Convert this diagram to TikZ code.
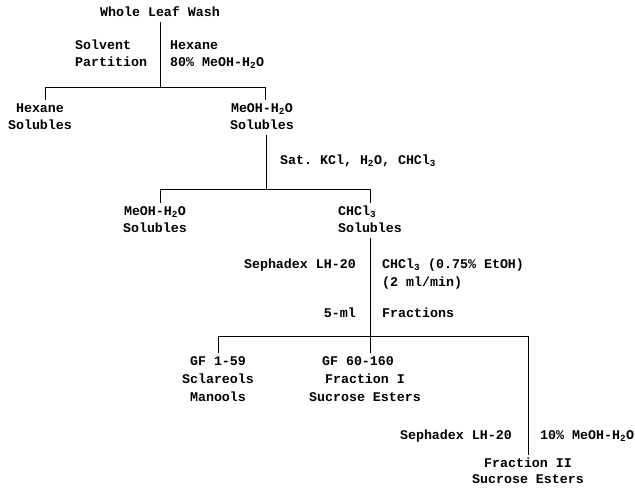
\documentclass[tikz,border=0pt]{standalone}
\usepackage{fontspec}
\setmonofont{Liberation Mono}
\newcommand\lo[1]{\textsubscript{#1}}
\begin{document}
\begin{tikzpicture}[x=1pt,y=-1pt,
  every node/.style={font=\ttfamily\bfseries\fontsize{13.3}{17}\selectfont, inner sep=0pt, text height=8pt, text depth=2pt},
  ln/.style={line width=0.6pt, black}]
\useasboundingbox (0,0) rectangle (635,488);
\fill[white] (0,0) rectangle (635,488);
% level 1
\node (title) at (160,13) {Whole Leaf Wash};
\node[anchor=west] (solA) at (75,46) {Solvent};
\node[anchor=west] (solB) at (75,63) {Partition};
\node[anchor=west] (hexL) at (170,46) {Hexane};
\node[anchor=west] (hexM) at (170,63) {80\% MeOH-H\lo{2}O};
\coordinate (c1) at (160,87);
\coordinate (h1l) at (45,87);
\coordinate (h1r) at (265,87);
\node (hxA) at (40,109) {Hexane};
\node (hxB) at (40,126) {Solubles};
\node (meA) at (262,109) {MeOH-H\lo{2}O};
\node (meB) at (262,126) {Solubles};
\draw[ln] ([yshift=-4pt]c1 |- title.south) -- (c1);
\draw[ln] (h1l) -- (h1r);
\draw[ln] (h1l) -- ([yshift=4pt]h1l |- hxA.north);
\draw[ln] (h1r) -- ([yshift=4pt]h1r |- meA.north);
% level 2
\coordinate (c2) at (266,189);
\coordinate (h2l) at (160,189);
\coordinate (h2r) at (370,189);
\node[anchor=west] (satN) at (280,161) {Sat. KCl, H\lo{2}O, CHCl\lo{3}};
\node (me2A) at (155,212) {MeOH-H\lo{2}O};
\node (me2B) at (155,229) {Solubles};
\node[anchor=west] (chA) at (338,212) {CHCl\lo{3}};
\node (chB) at (370,229) {Solubles};
\draw[ln] ([yshift=-4pt]c2 |- meB.south) -- (c2);
\draw[ln] (h2l) -- (h2r);
\draw[ln] (h2l) -- ([yshift=4pt]h2l |- me2A.north);
\draw[ln] (h2r) -- ([yshift=4pt]h2r |- chA.north);
% level 3
\coordinate (c3) at (370,336);
\coordinate (h3l) at (218,336);
\coordinate (h3r) at (528,336);
\node[anchor=east] (sepA) at (356,265) {Sephadex LH-20};
\node[anchor=west] (chcA) at (382,265) {CHCl\lo{3} (0.75\% EtOH)};
\node[anchor=west] (chcB) at (382,283) {(2 ml/min)};
\node[anchor=east] (fivA) at (356,314) {5-ml};
\node[anchor=west] (fraA) at (382,314) {Fractions};
\node (gf1A) at (218,362) {GF 1-59};
\node (gf1B) at (218,380) {Sclareols};
\node (gf1C) at (218,398) {Manools};
\node (gf2A) at (358,362) {GF 60-160};
\node (gf2B) at (365,380) {Fraction I};
\node (gf2C) at (365,398) {Sucrose Esters};
\draw[ln] ([yshift=-4pt]c3 |- chB.south) -- ([yshift=4pt]c3 |- gf2A.north);
\draw[ln] (h3l) -- (h3r);
\draw[ln] (h3l) -- ([yshift=4pt]h3l |- gf1A.north);
% level 4
\node[anchor=east] (sep2) at (512,436) {Sephadex LH-20};
\node[anchor=west] (mw) at (540,436) {10\% MeOH-H\lo{2}O};
\node (frIIA) at (528,464) {Fraction II};
\node (frIIB) at (528,480) {Sucrose Esters};
\draw[ln] (h3r) -- ([yshift=4pt]h3r |- frIIA.north);
\end{tikzpicture}
\end{document}
